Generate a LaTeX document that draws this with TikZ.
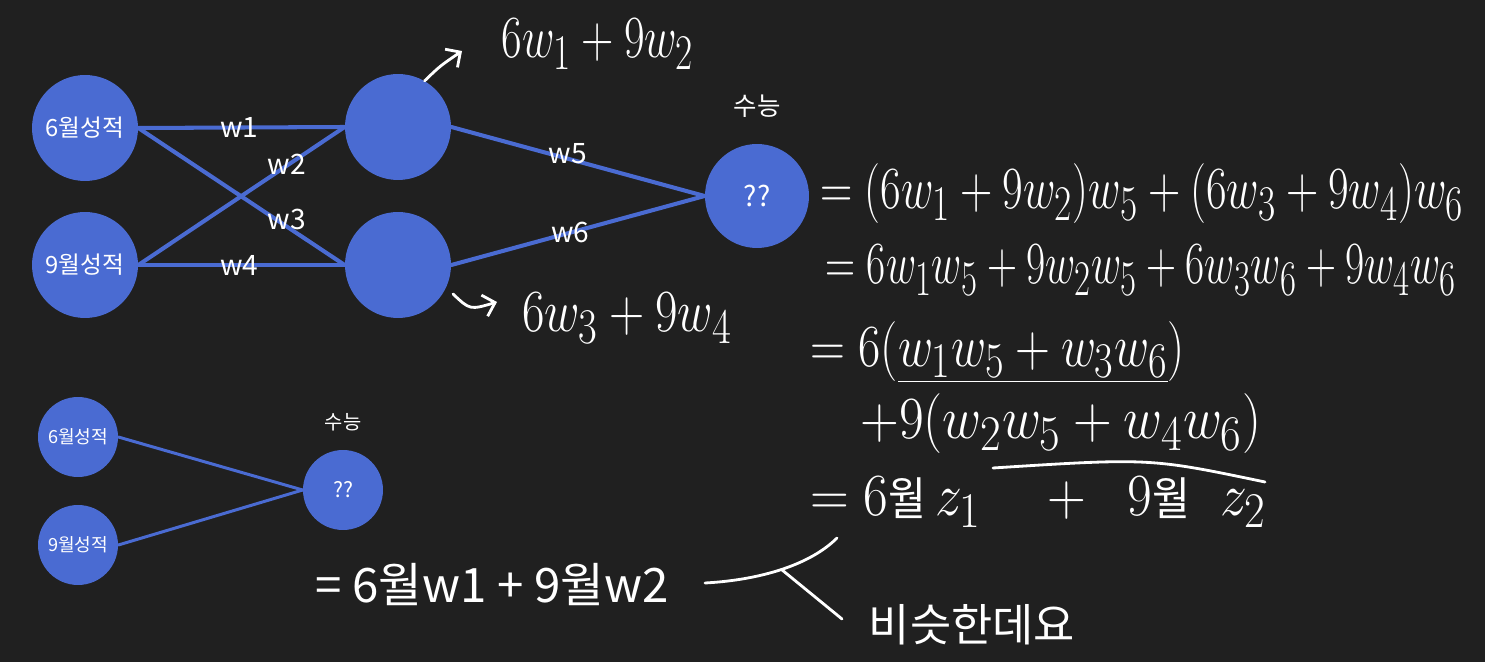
\documentclass[tikz,border=0pt]{standalone}
\usepackage[no-math]{fontspec}
\setmainfont{Noto Sans CJK KR}
\usetikzlibrary{arrows.meta,positioning}
\definecolor{NNBack}{HTML}{202020}
\definecolor{NNBlue}{HTML}{4A6BD2}

\begin{document}
\begin{tikzpicture}[x=0.02cm,y=-0.02cm,line cap=round,line join=round,
  neuron/.style={circle,fill=NNBlue,text=white,inner sep=0pt,minimum size=2.12cm,font=\fontsize{13.5}{16}\selectfont},
  neuronsm/.style={neuron,minimum size=1.6cm,font=\fontsize{10.3}{12}\selectfont},
  edge/.style={NNBlue,line width=2.3pt},
  edgesm/.style={NNBlue,line width=1.7pt},
  wlabel/.style={text=white,inner sep=0pt,font=\fontsize{16}{18}\selectfont},
  hand/.style={text=white,inner sep=0pt,font=\fontsize{24.88}{28}\selectfont,xscale=1.025,yscale=1.37},
  handline/.style={white,line width=1.6pt}]
  \fill[NNBack] (0,0) rectangle (1485,662);

  \node[neuron] (jun) at (85,128) {6월성적};
  \node[neuron] (sep) at (85,265) {9월성적};
  \node[neuron] (hidA) at (398,127) {};
  \node[neuron] (hidB) at (398,265) {};
  \node[neuron,minimum size=2.08cm,font=\fontsize{16}{18}\selectfont] (out) at (757,196) {??};
  \node[wlabel,font=\fontsize{14.5}{16}\selectfont] (suneung) at (757,106) {수능};

  \draw[edge] (jun.east) -- node[wlabel,pos=0.49] {w1} (hidA.west);
  \draw[edge] (sep.east) -- node[wlabel,pos=0.72,yshift=1pt] {w2} (hidA.west);
  \draw[edge] (jun.east) -- node[wlabel,pos=0.72,yshift=4pt] {w3} (hidB.west);
  \draw[edge] (sep.east) -- node[wlabel,pos=0.49] {w4} (hidB.west);
  \draw[edge] (hidA.east) -- node[wlabel,pos=0.46,yshift=3pt] {w5} (out.west);
  \draw[edge] (hidB.east) -- node[wlabel,pos=0.47] {w6} (out.west);

  \node[neuronsm] (jun2) at (78,437) {6월성적};
  \node[neuronsm] (sep2) at (78,545) {9월성적};
  \node[neuronsm,font=\fontsize{12}{14}\selectfont] (out2) at (343,490) {??};
  \node[wlabel,font=\fontsize{11.3}{13}\selectfont] (suneung2) at (343,422) {수능};
  \draw[edgesm] (jun2.east) -- (out2.west);
  \draw[edgesm] (sep2.east) -- (out2.west);

  \node[text=white,inner sep=0pt,font=\fontsize{27}{30}\selectfont] (simple) at (492,585) {= 6월w1 + 9월w2};
  \node[text=white,inner sep=0pt,font=\fontsize{25.5}{28}\selectfont] (similar) at (972,625) {비슷한데요};
  \draw[handline] (705,583) .. controls (760,580) and (810,565) .. coordinate[pos=0.5] (brace) (837,538);
  \draw[handline] (brace) -- (842,619);

  \node[hand] (sumA) at (598,44) {$6w_1+9w_2$};
  \node[hand,xscale=1.09] (sumB) at (627,318) {$6w_3+9w_4$};
  \coordinate (tipA) at (462,51);
  \coordinate (tailB) at (453,294);
  \draw[handline,-{Straight Barb[length=2.2mm]}] (hidA.60) .. controls (440,66) .. (tipA);
  \draw[handline,-{Straight Barb[length=2.2mm]}] (tailB) .. controls (470,310) .. (497,302);

  \node[hand,anchor=west] (eqA) at (820,194) {$=(6w_1+9w_2)w_5+(6w_3+9w_4)w_6$};
  \node[hand,anchor=west,xscale=0.93] (eqB) at (825,270) {$=6w_1w_5+9w_2w_5+6w_3w_6+9w_4w_6$};
  \node[hand,anchor=west,xscale=1.08] (eqC) at (810,352) {$=6(\underline{w_1w_5+w_3w_6})$};
  \node[hand,anchor=west,xscale=1.2] (eqD) at (860,424) {$+9(w_2w_5+w_4w_6)$};
  \node[hand,anchor=west,xscale=1.2] (eqE) at (810,502) {$=6${\fontsize{19}{21}\selectfont 월}$\,z_1\quad+\;\;9${\fontsize{19}{21}\selectfont 월}$\;\;z_2$};
  \draw[handline] (993,468) .. controls (1150,458) .. (1265,482);
\end{tikzpicture}
\end{document}
